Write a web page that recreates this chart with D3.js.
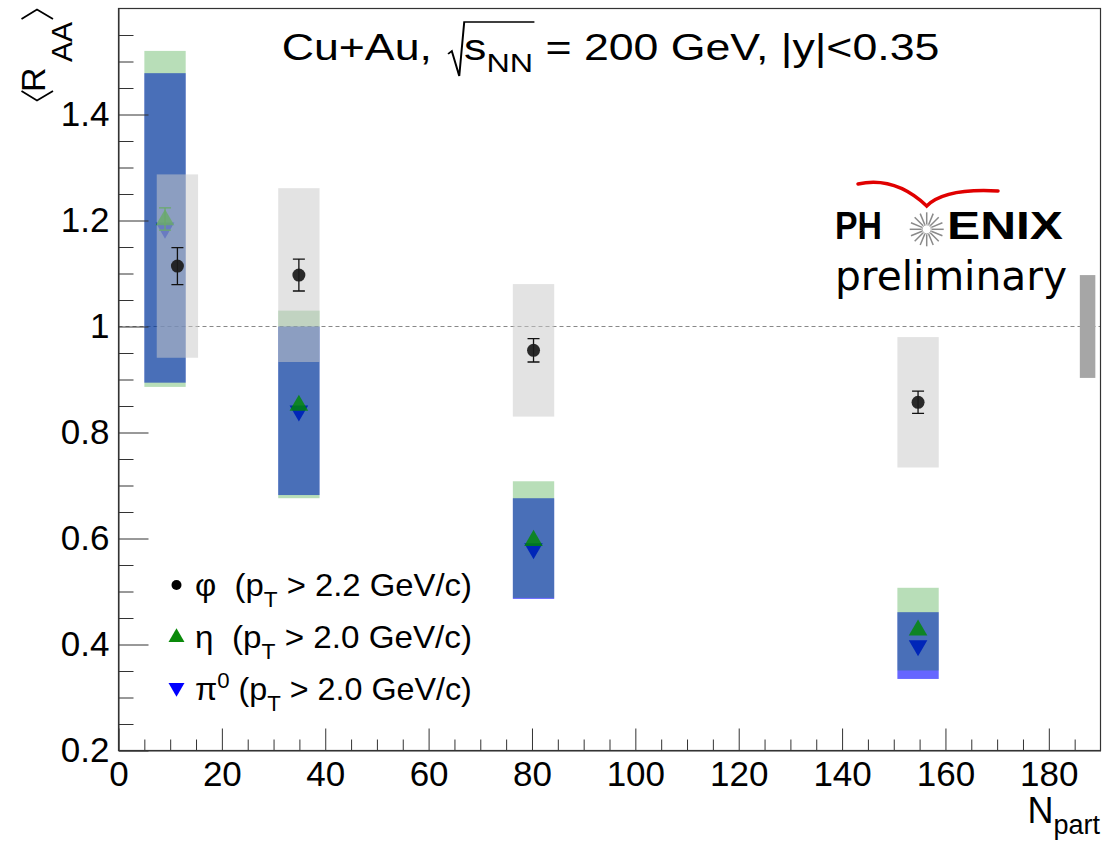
<!DOCTYPE html>
<html>
<head>
<meta charset="utf-8">
<script src="https://cdn.jsdelivr.net/npm/d3@7"></script>
<style>
  body { margin: 0; background: #fff; }
  svg { display: block; font-family: "Liberation Sans", Arial, sans-serif; }
  text { white-space: pre; }
</style>
</head>
<body>
<div id="chart"></div>
<script>
// phi meson
const npartPhi = [11.4, 34.9, 80.3, 154.7];
const raaPhi = [1.114, 1.097, 0.955, 0.857];
const statPhi = [0.035, 0.030, 0.022, 0.021];
const sysPhi = [0.173, 0.164, 0.125, 0.123];

// eta meson
const npartEta = [9.0, 34.9, 80.3, 154.7];
const raaEta = [1.203, 0.853, 0.598, 0.429];
const statEta = [0.021, 0.010, 0.010, 0.010];
const sysEta = [0.317, 0.177, 0.110, 0.078];

// pi0
const npartPi0 = [9.0, 34.9, 80.3, 154.7];
const raaPi0 = [1.186, 0.841, 0.581, 0.398];
const sysPi0 = [0.292, 0.159, 0.095, 0.063];

// global normalisation uncertainty
const globalNpart = [186, 189];
const globalSys = [0.097];

const xMajor = [0, 20, 40, 60, 80, 100, 120, 140, 160, 180];
const yMajor = [0.2, 0.4, 0.6, 0.8, 1.0, 1.2, 1.4];
const legendLabels = [
  ["φ  (p", "T", " > 2.2 GeV/c)"],
  ["η  (p", "T", " > 2.0 GeV/c)"],
  ["π", "0", " (p", "T", " > 2.0 GeV/c)"]
];

const W = 1103, H = 842;
const boxHalf = 4;

const x = d3.scaleLinear().domain([0, 190]).range([118.5, 1100.5]);
const y = d3.scaleLinear().domain([0.2, 1.6]).range([750.5, 8.5]);

const svg = d3.select("#chart").append("svg").attr("width", W).attr("height", H);

const rows = (xs, ys, err) => xs.map((n, i) => ({n: n, v: ys[i], e: err ? err[i] : 0}));

// reference line at 1
svg.append("line")
  .attr("x1", x(0)).attr("x2", x(190))
  .attr("y1", y(1)).attr("y2", y(1))
  .attr("stroke", "#888").attr("stroke-width", 1)
  .attr("stroke-dasharray", "4,3");

function boxes(data, fill) {
  svg.append("g").selectAll("rect").data(data).enter().append("rect")
    .attr("x", d => x(d.n - boxHalf))
    .attr("width", d => x(d.n + boxHalf) - x(d.n - boxHalf))
    .attr("y", d => y(d.v + d.e))
    .attr("height", d => y(d.v - d.e) - y(d.v + d.e))
    .attr("fill", fill);
}

const tri = d3.symbol().type(d3.symbolTriangle).size(150);

// pi0 boxes + markers
boxes(rows(npartPi0, raaPi0, sysPi0), "rgba(0,0,255,0.6)");
svg.append("g").selectAll("path").data(rows(npartPi0, raaPi0)).enter().append("path")
  .attr("d", tri)
  .attr("transform", d => `translate(${x(d.n)},${y(d.v)}) rotate(180)`)
  .attr("fill", "#0000ff");

// eta boxes + markers
boxes(rows(npartEta, raaEta, sysEta), "rgba(0,138,0,0.28)");
const etaG = svg.append("g");
const etaErr = rows(npartEta, raaEta, statEta).filter(d => y(d.v - d.e) - y(d.v + d.e) > 20);
etaG.selectAll("path.err").data(etaErr).enter().append("path")
  .attr("class", "err")
  .attr("d", d => `M${x(d.n) - 6},${y(d.v + d.e)}H${x(d.n) + 6}M${x(d.n)},${y(d.v + d.e)}V${y(d.v - d.e)}M${x(d.n) - 6},${y(d.v - d.e)}H${x(d.n) + 6}`)
  .attr("stroke", "#008a00").attr("stroke-width", 1.2).attr("fill", "none");
etaG.selectAll("path.m").data(rows(npartEta, raaEta)).enter().append("path")
  .attr("class", "m")
  .attr("d", tri)
  .attr("transform", d => `translate(${x(d.n)},${y(d.v) + 1})`)
  .attr("fill", "#008a00").attr("fill-opacity", 0.8);

// phi boxes
boxes(rows(npartPhi, raaPhi, sysPhi), "rgba(201,201,201,0.52)");

// global box
svg.append("rect")
  .attr("x", x(globalNpart[0]))
  .attr("width", x(globalNpart[1]) - x(globalNpart[0]))
  .attr("y", y(1 + globalSys[0]))
  .attr("height", y(1 - globalSys[0]) - y(1 + globalSys[0]))
  .attr("fill", "#a6a6a6");

// phi points
const phiG = svg.append("g");
phiG.selectAll("path").data(rows(npartPhi, raaPhi, statPhi)).enter().append("path")
  .attr("d", d => `M${x(d.n) - 6},${y(d.v + d.e)}H${x(d.n) + 6}M${x(d.n)},${y(d.v + d.e)}V${y(d.v - d.e)}M${x(d.n) - 6},${y(d.v - d.e)}H${x(d.n) + 6}`)
  .attr("stroke", "#111").attr("stroke-width", 1.3).attr("fill", "none");
phiG.selectAll("circle").data(rows(npartPhi, raaPhi)).enter().append("circle")
  .attr("cx", d => x(d.n)).attr("cy", d => y(d.v)).attr("r", 6.5)
  .attr("fill", "#1a1a1a").attr("fill-opacity", 0.92);

// axes
const xAxisG = svg.append("g").attr("transform", `translate(0,${y(0.2)})`)
  .call(d3.axisBottom(x).tickValues(xMajor).tickSize(-22).tickSizeOuter(0).tickPadding(11).tickFormat(d3.format("d")));
svg.append("g").attr("transform", `translate(0,${y(0.2)})`)
  .call(d3.axisBottom(x).tickValues(d3.range(5, 190, 5).filter(v => v % 20 !== 0)).tickSize(-11).tickFormat(""))
  .call(g => g.select(".domain").remove());
const yAxisG = svg.append("g").attr("transform", `translate(${x(0)},0)`)
  .call(d3.axisLeft(y).tickValues(yMajor).tickSize(-30).tickSizeOuter(0).tickPadding(9).tickFormat(d3.format("~g")));
svg.append("g").attr("transform", `translate(${x(0)},0)`)
  .call(d3.axisLeft(y).tickValues(d3.range(0.25, 1.6, 0.05).filter(v => Math.abs(v * 5 - Math.round(v * 5)) > 0.01)).tickSize(-15).tickFormat(""))
  .call(g => g.select(".domain").remove());

svg.selectAll(".tick line").attr("stroke", "#333");
svg.selectAll(".domain").attr("stroke", "#333");
[xAxisG, yAxisG].forEach(g => g.selectAll("text")
  .attr("font-size", 35).attr("fill", "#000")
  .attr("font-family", "'Liberation Sans', Arial, sans-serif"));

// frame
svg.append("rect")
  .attr("x", x(0)).attr("y", y(1.6))
  .attr("width", x(190) - x(0)).attr("height", y(0.2) - y(1.6))
  .attr("fill", "none").attr("stroke", "#333").attr("stroke-width", 1.2);

// title
const titleG = svg.append("g");
const tt = titleG.append("text").attr("font-size", 36).attr("fill", "#000");
tt.append("tspan").text("Cu+Au, ");
tt.append("tspan").attr("dx", 16).text("s");
tt.append("tspan").attr("font-size", 26).attr("dy", 12).text("NN");
tt.append("tspan").attr("font-size", 36).attr("dy", -12).text(" = 200 GeV, |y|<0.35");
const sx = tt.node().getStartPositionOfChar(7).x;
const nnEnd = tt.node().getEndPositionOfChar(9).x;
titleG.append("path")
  .attr("d", `M${sx - 13},${-6}L${sx - 10},${-9}L${sx - 4},${16}L${sx},${-38}H${nnEnd + 1}`)
  .attr("fill", "none").attr("stroke", "#000").attr("stroke-width", 1.6);
const tw = tt.node().getBBox().width;
titleG.attr("transform", `translate(281.7,60) scale(${658 / tw},1)`);

// y axis title
const yt = svg.append("g").attr("transform", "translate(45,92) rotate(-90)");
yt.append("text").attr("font-size", 34).text("R");
yt.append("text").attr("x", 30).attr("y", 27).attr("font-size", 30).text("AA");
svg.append("path").attr("d", "M21.5,91L37,100.5L53,91").attr("fill", "none").attr("stroke", "#000").attr("stroke-width", 1.8);
svg.append("path").attr("d", "M21.5,19L37,9.5L53,19").attr("fill", "none").attr("stroke", "#000").attr("stroke-width", 1.8);

// x axis title
const xt = svg.append("text").attr("x", 1100).attr("y", 823).attr("text-anchor", "end").attr("font-size", 36);
xt.append("tspan").text("N");
xt.append("tspan").attr("font-size", 27).attr("dy", 11).text("part");

// legend
const legY = [585, 636.5, 688.5];
const leg = svg.append("g");
leg.append("circle").attr("cx", 176.5).attr("cy", legY[0]).attr("r", 5).attr("fill", "#000");
leg.append("path").attr("d", d3.symbol().type(d3.symbolTriangle).size(110))
  .attr("transform", `translate(176.5,${legY[1] + 1})`).attr("fill", "#0a8a0a");
leg.append("path").attr("d", d3.symbol().type(d3.symbolTriangle).size(110))
  .attr("transform", `translate(176.5,${legY[2] - 1}) rotate(180)`).attr("fill", "#0000ff");
legendLabels.forEach((parts, i) => {
  const g = leg.append("g");
  const t = g.append("text").attr("font-size", 32).attr("fill", "#000");
  let shift = 0;
  parts.forEach(p => {
    const s = t.append("tspan").text(p);
    if (p === "T") { s.attr("font-size", 22).attr("dy", 11); shift = 11; }
    else if (p === "0") { s.attr("font-size", 22).attr("dy", -12); shift = -12; }
    else if (shift !== 0) { s.attr("font-size", 32).attr("dy", -shift); shift = 0; }
  });
  const w = t.node().getBBox().width;
  g.attr("transform", `translate(195,${legY[i] + 11}) scale(${277 / w},1)`);
});

// PHENIX preliminary logo
const logo = svg.append("g");
logo.append("path")
  .attr("d", "M858,184Q895,176 926.7,206Q945,188 998,191")
  .attr("fill", "none").attr("stroke", "#e00000").attr("stroke-width", 3.5).attr("stroke-linecap", "round");
logo.append("text").attr("x", 835).attr("y", 238.5).attr("font-size", 39).attr("font-weight", "bold")
  .attr("textLength", 47).attr("lengthAdjust", "spacingAndGlyphs").text("PH");
logo.append("text").attr("x", 947).attr("y", 238.5).attr("font-size", 39).attr("font-weight", "bold")
  .attr("textLength", 116).attr("lengthAdjust", "spacingAndGlyphs").text("ENIX");
const rays = d3.range(16).map(k => k * Math.PI / 8);
logo.append("g").selectAll("line").data(rays).enter().append("line")
  .attr("x1", a => 926.7 + 5 * Math.cos(a)).attr("y1", a => 229.3 + 5 * Math.sin(a))
  .attr("x2", a => 926.7 + 17 * Math.cos(a)).attr("y2", a => 229.3 + 17 * Math.sin(a))
  .attr("stroke", "#8a8a8a").attr("stroke-width", 1.5);
logo.append("circle").attr("cx", 926.7).attr("cy", 229.3).attr("r", 4.5)
  .attr("fill", "#fff").attr("stroke", "#aaa").attr("stroke-width", 1);
logo.append("text").attr("x", 835).attr("y", 290).attr("font-size", 40)
  .attr("font-family", "'DejaVu Sans', sans-serif")
  .attr("textLength", 232).attr("lengthAdjust", "spacingAndGlyphs").text("preliminary");
</script>
</body>
</html>
